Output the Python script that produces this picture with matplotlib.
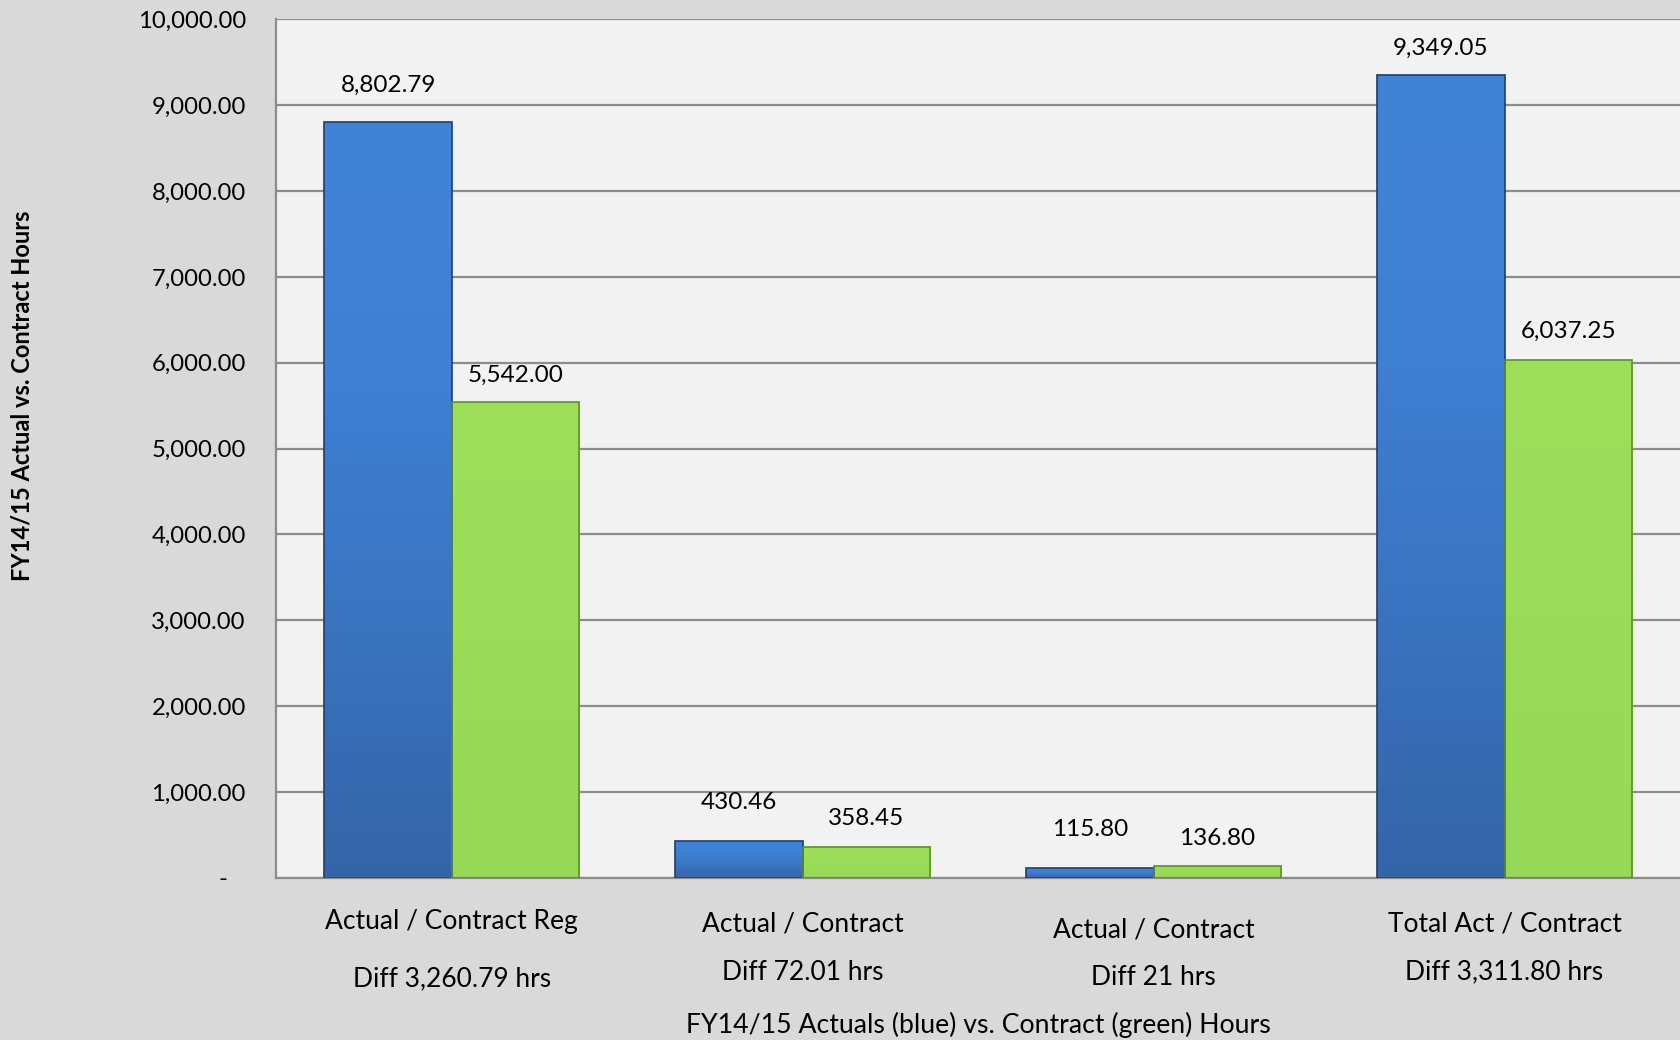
"""Recreate the FY14/15 actual vs. contract hours bar chart."""
import matplotlib
matplotlib.use("Agg")
import matplotlib.pyplot as plt
import numpy as np
from matplotlib.colors import LinearSegmentedColormap
from matplotlib.ticker import FuncFormatter

plt.rcParams["font.family"] = ["Lato", "DejaVu Sans"]

CATEGORIES = ["Actual / Contract Reg", "Actual / Contract",
              "Actual / Contract", "Total Act / Contract"]
DIFF_LABELS = ["Diff 3,260.79 hrs", "Diff 72.01 hrs",
               "Diff 21 hrs", "Diff 3,311.80 hrs"]
ACTUAL = [8802.79, 430.46, 115.80, 9349.05]
CONTRACT = [5542.00, 358.45, 136.80, 6037.25]

BLUE_EDGE = "#1d3f6e"
GREEN_EDGE = "#5e8f2c"
BLUE_CMAP = LinearSegmentedColormap.from_list(
    "b", ["#3464a8", "#3a74c0", "#3e80d4", "#4084d8"])
GREEN_CMAP = LinearSegmentedColormap.from_list("g", ["#96d956", "#9ddf59"])

fig = plt.figure(figsize=(16.8, 10.4), dpi=100, facecolor="#d9d9d9")
ax = fig.add_axes([0.1645, 0.156, 0.8355, 0.8254])
ax.set_facecolor("#f2f2f2")

x = np.arange(len(CATEGORIES))
w = 0.363
b1 = ax.bar(x - w / 2, ACTUAL, w, color="none", edgecolor=BLUE_EDGE,
            linewidth=1.2, zorder=3)
b2 = ax.bar(x + w / 2, CONTRACT, w, color="none", edgecolor=GREEN_EDGE,
            linewidth=1.2, zorder=3)

# vertical gradient fill, clipped to each bar
grad = np.linspace(0, 1, 256).reshape(-1, 1)
for bars, cmap in ((b1, BLUE_CMAP), (b2, GREEN_CMAP)):
    for rect in bars:
        x0, h, bw = rect.get_x(), rect.get_height(), rect.get_width()
        im = ax.imshow(grad, cmap=cmap, origin="lower", aspect="auto",
                       extent=(x0, x0 + bw, 0, h), zorder=2.5)
        im.set_clip_path(rect)

# value labels (offset in pixels above bar top, as staggered in the original)
blue_off = [37, 38, 38, 27]
green_off = [27, 28, 28, 28]
for bars, vals, offs in ((b1, ACTUAL, blue_off), (b2, CONTRACT, green_off)):
    for rect, v, o in zip(bars, vals, offs):
        ax.annotate(f"{v:,.2f}", (rect.get_x() + rect.get_width() / 2, v),
                    xytext=(0, o), textcoords="offset pixels",
                    ha="center", va="center", fontsize=17.5, zorder=4)

ax.set_xlim(-0.5, 3.5)
ax.set_ylim(0, 10000)
ax.set_yticks(np.arange(0, 10001, 1000))
ax.yaxis.set_major_formatter(
    FuncFormatter(lambda v, _: "-   " if v == 0 else f"{v:,.2f}"))
ax.tick_params(axis="y", length=0, pad=22, labelsize=17.2)
ax.set_xticks([])
ax.grid(axis="y", color="#8c8c8c", linewidth=1.6, zorder=1)
for side in ("top", "right"):
    ax.spines[side].set_visible(False)
for side in ("left", "bottom"):
    ax.spines[side].set_color("#8c8c8c")
    ax.spines[side].set_linewidth(1.6)

line1_off = [44, 46, 52, 46]
line2_off = [101, 95, 100, 94]
for i, (cat, diff) in enumerate(zip(CATEGORIES, DIFF_LABELS)):
    ax.annotate(cat, (i, 0), xycoords=("data", "axes fraction"),
                xytext=(0, -line1_off[i]), textcoords="offset pixels",
                ha="center", va="center", fontsize=19)
    ax.annotate(diff, (i, 0), xycoords=("data", "axes fraction"),
                xytext=(0, -line2_off[i]), textcoords="offset pixels",
                ha="center", va="center", fontsize=19)

ax.annotate("FY14/15 Actuals (blue) vs. Contract (green) Hours", (0.5, 0),
            xycoords="axes fraction", xytext=(0, -147),
            textcoords="offset pixels", ha="center", va="center",
            fontsize=19.2)

fig.text(22 / 1680, 1 - 396 / 1040, "FY14/15 Actual vs. Contract Hours",
         rotation=90, ha="center", va="center", fontsize=17,
         fontweight="bold")

fig.savefig("out.png", dpi=100, facecolor=fig.get_facecolor())
